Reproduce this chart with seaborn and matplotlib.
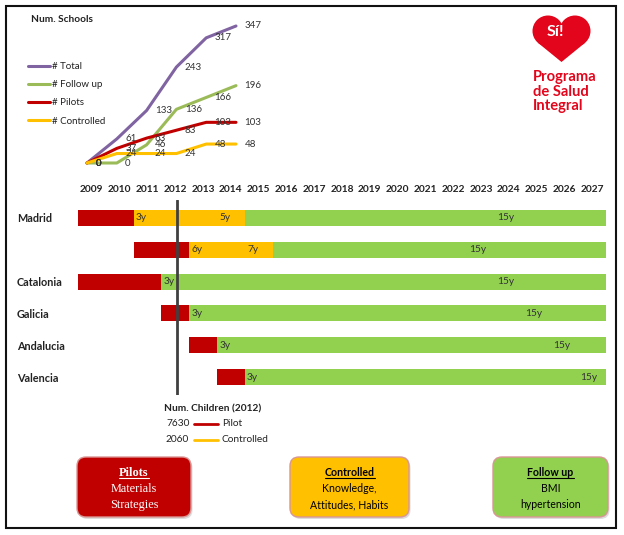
import numpy as np
import pandas as pd
import matplotlib
matplotlib.use('Agg')
import matplotlib.pyplot as plt
import seaborn as sns
from matplotlib.patches import FancyBboxPatch, Rectangle, Circle, Polygon

# ---------------- data ----------------
school_years = [2009, 2010, 2011, 2012, 2013, 2014]
total = [0, 61, 133, 243, 317, 347]
follow_up = [0, 0, 46, 136, 166, 196]
pilots = [0, 37, 63, 83, 103, 103]
controlled = [0, 24, 24, 24, 48, 48]
series_names = ['# Total', '# Follow up', '# Pilots', '# Controlled']

regions = ['Madrid', '', 'Catalonia', 'Galicia', 'Andalucia', 'Valencia']
pilot_start = [2009, 2011, 2009, 2012, 2013, 2014]
pilot_years = [2, 2, 3, 1, 1, 1]
controlled_years = [4, 3, 0, 0, 0, 0]
timeline_end = 2028
timeline_years = list(range(2009, 2028))
bar_labels = [['3y', '5y', '15y'], ['6y', '7y', '15y'], ['3y', '15y'],
              ['3y', '15y'], ['3y', '15y'], ['3y', '15y']]
bar_label_years = [[2011, 2014, 2024], [2013, 2015, 2023], [2012, 2024],
                   [2013, 2025], [2014, 2026], [2015, 2027]]
marker_year = 2012

children_values = [7630, 2060]
children_groups = ['Pilot', 'Controlled']

box_titles = ['Pilots', 'Controlled', 'Follow up']
box_lines = [['Materials', 'Strategies'], ['Knowledge,', 'Attitudes, Habits'],
             ['BMI', 'hypertension']]

# ---------------- styling ----------------
RED, ORANGE, GREEN = '#C00000', '#FFC000', '#92D050'
palette = {'# Total': '#8064A2', '# Follow up': '#9BBB59',
           '# Pilots': '#C00000', '# Controlled': '#FFC000'}
LOGO = '#E3051B'

sns.set_theme(style='white')
plt.rcParams['font.family'] = ['Lato', 'DejaVu Sans']

W, H = 624, 535
fig = plt.figure(figsize=(W / 100, H / 100), dpi=100)


def px_axes(l, t, r, b):
    ax = fig.add_axes([l / W, 1 - b / H, (r - l) / W, (b - t) / H])
    ax.patch.set_alpha(0)
    return ax


bg = px_axes(0, 0, W, H)
bg.set_xlim(0, W)
bg.set_ylim(H, 0)
bg.axis('off')
bg.add_patch(Rectangle((6, 6), 610, 522, fill=False, ec='#111111', lw=1.5))

# ---------------- line chart ----------------
df = pd.DataFrame({
    'year': school_years * 4,
    'value': total + follow_up + pilots + controlled,
    'series': np.repeat(series_names, len(school_years)),
})
lc = px_axes(87, 26, 236, 163)
sns.lineplot(data=df, x='year', y='value', hue='series', hue_order=series_names,
             palette=palette, lw=2.2, ax=lc)
lc.set_xlim(school_years[0], school_years[-1])
lc.set_ylim(0, max(total))
lc.axis('off')
for ln in lc.get_lines():
    ln.set_clip_on(False)
for name, vals in zip(series_names, [total, follow_up, pilots, controlled]):
    for xv, v in zip(school_years, vals):
        lc.annotate(str(v), (xv, v), xytext=(6, 0), textcoords='offset points',
                    ha='left', va='center', fontsize=7, color='#333333',
                    annotation_clip=False)
handles, labels = lc.get_legend_handles_labels()
lc.legend(handles, labels, loc='upper left', bbox_to_anchor=(28 / W, 1 - 62 / H),
          bbox_transform=fig.transFigure, frameon=False, fontsize=7,
          handlelength=2.3, handletextpad=0.15, labelspacing=0.95,
          borderpad=0, borderaxespad=0, labelcolor='#222222')
bg.text(31, 20, 'Num. Schools', fontsize=7.3, fontweight='bold', va='center',
        ha='left', color='#222222')

# ---------------- timeline (gantt) ----------------
gx = px_axes(78, 200, 606, 395)
rows = np.arange(len(regions))
ctrl_start = np.add(pilot_start, pilot_years)
fu_start = ctrl_start + np.array(controlled_years)
gx.barh(rows, pilot_years, left=pilot_start, height=0.5, color=RED, lw=0)
gx.barh(rows, controlled_years, left=ctrl_start, height=0.5, color=ORANGE, lw=0)
gx.barh(rows, timeline_end - fu_start, left=fu_start, height=0.5, color=GREEN, lw=0)
gx.set_xlim(timeline_years[0], timeline_end)
gx.set_ylim(5.566, -0.566)
for s in gx.spines.values():
    s.set_visible(False)
gx.xaxis.tick_top()
gx.set_xticks(np.array(timeline_years) + 0.5)
gx.set_xticklabels([str(y) for y in timeline_years], fontsize=7.3,
                   fontweight='bold', color='#222222')
gx.tick_params(axis='x', length=0, pad=4.5)
gx.set_yticks(rows)
gx.set_yticklabels(regions, fontsize=7.8, fontweight='bold', color='#222222', ha='left')
gx.tick_params(axis='y', length=0, pad=44)
gx.set_xlabel('')
gx.set_ylabel('')
gx.axvline(marker_year + 0.55, color='#404040', lw=2, zorder=5)
for r, (labs, yrs) in enumerate(zip(bar_labels, bar_label_years)):
    for lab, yv in zip(labs, yrs):
        gx.text(yv + 0.08, r, lab, ha='left', va='center', fontsize=7.3,
                color='#333333', zorder=6)

# ---------------- children legend ----------------
bg.text(164, 409, 'Num. Children (2012)', fontsize=7.3, fontweight='bold',
        va='center', ha='left', color='#222222')
for i, (v, g, c) in enumerate(zip(children_values, children_groups, [RED, ORANGE])):
    yy = 424 + 16 * i
    bg.text(166, yy, str(v), fontsize=7.3, va='center', ha='left', color='#222222')
    bg.plot([194, 218], [yy, yy], color=c, lw=2)
    bg.text(222, yy, g, fontsize=7.3, va='center', ha='left', color='#222222')

# ---------------- bottom boxes ----------------
box_x = [(77, 191), (290, 409), (493, 608)]
box_fc = [RED, ORANGE, GREEN]
box_tc = ['white', 'black', 'black']
box_font = [['Liberation Serif'], ['Lato', 'DejaVu Sans'], ['Lato', 'DejaVu Sans']]
box_fs = [8.8, 7.6, 7.6]
title_texts = []
for (x0, x1), fc, tc, ff, fs, ttl, lines in zip(box_x, box_fc, box_tc, box_font,
                                                box_fs, box_titles, box_lines):
    bg.add_patch(FancyBboxPatch((x0 + 1.5, 459), x1 - x0, 60,
                                boxstyle='round,pad=0,rounding_size=9',
                                fc='#bbbbbb', ec='none', alpha=0.5))
    bg.add_patch(FancyBboxPatch((x0, 457), x1 - x0, 60,
                                boxstyle='round,pad=0,rounding_size=9',
                                fc=fc, ec='#D99694', lw=1))
    cx = (x0 + x1) / 2
    t = bg.text(cx, 473, ttl, fontsize=fs, fontweight='bold', color=tc,
                ha='center', va='center', family=ff)
    title_texts.append((t, tc))
    for j, ln in enumerate(lines):
        bg.text(cx, 489 + 16 * j, ln, fontsize=fs, color=tc, ha='center',
                va='center', family=ff)

# ---------------- logo ----------------
lobe_r = 15.5
lobes = [(548.0, 31.0), (575.0, 31.0)]
tip = np.array([561.5, 62.0])
pts = []
for k, (cxl, cyl) in enumerate(lobes):
    bg.add_patch(Circle((cxl, cyl), lobe_r, fc=LOGO, ec='none'))
    c = np.array([cxl, cyl])
    d = tip - c
    dist = np.hypot(*d)
    a = np.arctan2(d[1], d[0])
    off = np.arccos(lobe_r / dist)
    ang = a + off if k == 0 else a - off
    pts.append(c + lobe_r * np.array([np.cos(ang), np.sin(ang)]))
bg.add_patch(Polygon([pts[0], tip, pts[1], (561.5, 28)], closed=True,
                     fc=LOGO, ec='none'))
bg.text(555, 32, 'Sí!', fontsize=11.5, fontweight='bold', color='white',
        ha='center', va='center')
for k, word in enumerate(['Programa', 'de Salud', 'Integral']):
    bg.text(533, 77 + 14.5 * k, word, fontsize=10.6, fontweight='bold', color=LOGO,
            ha='left', va='center')

# underline box titles
fig.canvas.draw()
inv = bg.transData.inverted()
for t, tc in title_texts:
    bb = t.get_window_extent()
    (xa, ya), (xb, yb) = inv.transform([(bb.x0, bb.y0), (bb.x1, bb.y1)])
    bg.plot([xa, xb], [max(ya, yb) - 1, max(ya, yb) - 1], color=tc, lw=0.8)

fig.savefig('out.png', dpi=100)
